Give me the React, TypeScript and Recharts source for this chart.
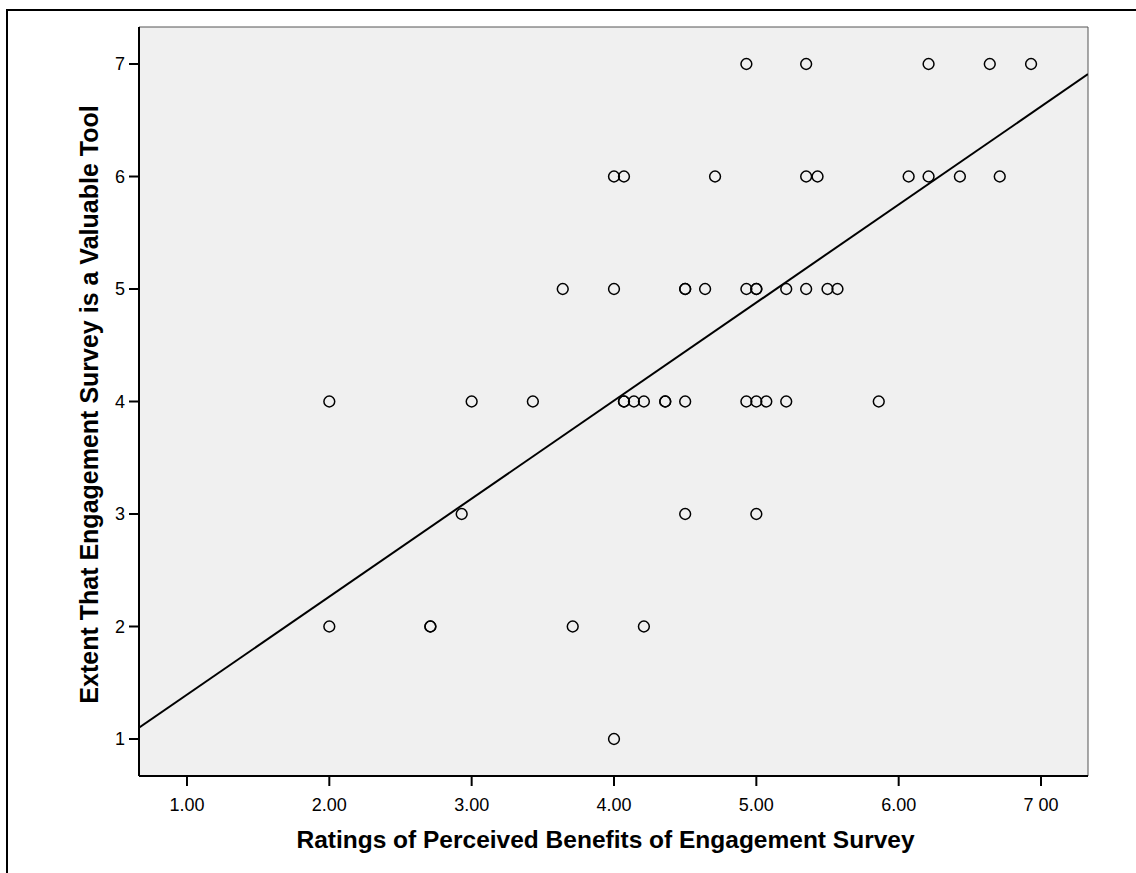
import React from "react";
import {
  ComposedChart,
  Scatter,
  XAxis,
  YAxis,
  ReferenceArea,
  Label,
} from "recharts";

// Ratings of Perceived Benefits (x) grouped by "Extent ... Valuable Tool" (y)
const benefitsAtTool7 = [4.93, 5.35, 6.21, 6.64, 6.93];
const benefitsAtTool6 = [4.0, 4.07, 4.71, 5.35, 5.43, 6.07, 6.21, 6.43, 6.71];
const benefitsAtTool5 = [3.64, 4.0, 4.5, 4.5, 4.64, 4.93, 5.0, 5.0, 5.21, 5.35, 5.5, 5.57];
const benefitsAtTool4 = [2.0, 3.0, 3.43, 4.07, 4.07, 4.14, 4.21, 4.36, 4.36, 4.5, 4.93, 5.0, 5.07, 5.21, 5.86];
const benefitsAtTool3 = [2.93, 4.5, 5.0];
const benefitsAtTool2 = [2.0, 2.71, 2.71, 3.71, 4.21];
const benefitsAtTool1 = [4.0];

const toolLevels = [7, 6, 5, 4, 3, 2, 1];
const benefitGroups = [
  benefitsAtTool7,
  benefitsAtTool6,
  benefitsAtTool5,
  benefitsAtTool4,
  benefitsAtTool3,
  benefitsAtTool2,
  benefitsAtTool1,
];

// Fit line end points
const fitLine = [
  { x: 0.663, y: 1.1 },
  { x: 7.33, y: 6.91 },
];

const xTicks = [1, 2, 3, 4, 5, 6, 7];
const xTickLabels = ["1.00", "2.00", "3.00", "4.00", "5.00", "6.00", "7 00"];
const yTicks = [1, 2, 3, 4, 5, 6, 7];

const xDomain: [number, number] = [0.663, 7.33];
const yDomain: [number, number] = [0.671, 7.329];

const xTitle = "Ratings of Perceived Benefits of Engagement Survey";
const yTitle = "Extent That Engagement Survey is a Valuable Tool";

const points = benefitGroups.flatMap((group, i) =>
  group.map((x) => ({ x, y: toolLevels[i] }))
);

const FONT = "'Liberation Sans', Arial, sans-serif";

const OpenCircle = (props: any) => {
  const { cx, cy } = props;
  if (cx == null || cy == null) return <g />;
  return (
    <circle cx={cx} cy={cy} r={5.4} fill="none" stroke="#000" strokeWidth={1.5} />
  );
};

const NoShape = () => <g />;

export default function App() {
  return (
    <div style={{ position: "absolute", left: 0, top: 0, width: 1136, height: 873 }}>
      <div
        style={{
          position: "absolute",
          left: 6,
          top: 9,
          width: 1130,
          height: 864,
          boxSizing: "border-box",
          borderTop: "2px solid #000",
          borderLeft: "2px solid #000",
        }}
      />
      <div style={{ position: "absolute", left: 0, top: 0 }}>
        <ComposedChart
          width={1136}
          height={873}
          margin={{ top: 27, right: 48, bottom: 37, left: 79 }}
          style={{ fontFamily: FONT }}
        >
          <XAxis
            type="number"
            dataKey="x"
            domain={xDomain}
            ticks={xTicks}
            allowDataOverflow
            height={60}
            tickSize={10}
            tickMargin={12}
            axisLine={{ stroke: "#000", strokeWidth: 2 }}
            tickLine={{ stroke: "#000", strokeWidth: 2 }}
            tick={{ fill: "#000", fontSize: 18, fontFamily: FONT }}
            tickFormatter={(v: number) => xTickLabels[xTicks.indexOf(v)] ?? String(v)}
          >
            <Label
              content={(p: any) => {
                const vb = p.viewBox || {};
                return (
                  <text
                    x={vb.x + vb.width / 2 - 8}
                    y={848}
                    textAnchor="middle"
                    fontFamily={FONT}
                    fontWeight="bold"
                    fontSize={24.5}
                    fill="#000"
                  >
                    {xTitle}
                  </text>
                );
              }}
            />
          </XAxis>
          <YAxis
            type="number"
            dataKey="y"
            domain={yDomain}
            ticks={yTicks}
            allowDataOverflow
            width={60}
            tickSize={10}
            tickMargin={4}
            axisLine={{ stroke: "#000", strokeWidth: 2 }}
            tickLine={{ stroke: "#000", strokeWidth: 2 }}
            tick={{ fill: "#000", fontSize: 18, fontFamily: FONT }}
          >
            <Label
              content={(p: any) => {
                const vb = p.viewBox || {};
                const cy = vb.y + vb.height / 2 + 3;
                return (
                  <text
                    x={98}
                    y={cy}
                    transform={`rotate(-90, 98, ${cy})`}
                    textAnchor="middle"
                    fontFamily={FONT}
                    fontWeight="bold"
                    fontSize={25}
                    fill="#000"
                  >
                    {yTitle}
                  </text>
                );
              }}
            />
          </YAxis>
          <ReferenceArea
            x1={xDomain[0]}
            x2={xDomain[1]}
            y1={yDomain[0]}
            y2={yDomain[1]}
            fill="#f0f0f0"
            fillOpacity={1}
            stroke="#555"
            strokeWidth={1}
            ifOverflow="extendDomain"
          />
          <Scatter
            data={fitLine}
            line={{ stroke: "#000", strokeWidth: 2 }}
            lineType="joint"
            shape={NoShape}
            isAnimationActive={false}
          />
          <Scatter data={points} shape={OpenCircle} isAnimationActive={false} />
        </ComposedChart>
      </div>
    </div>
  );
}
